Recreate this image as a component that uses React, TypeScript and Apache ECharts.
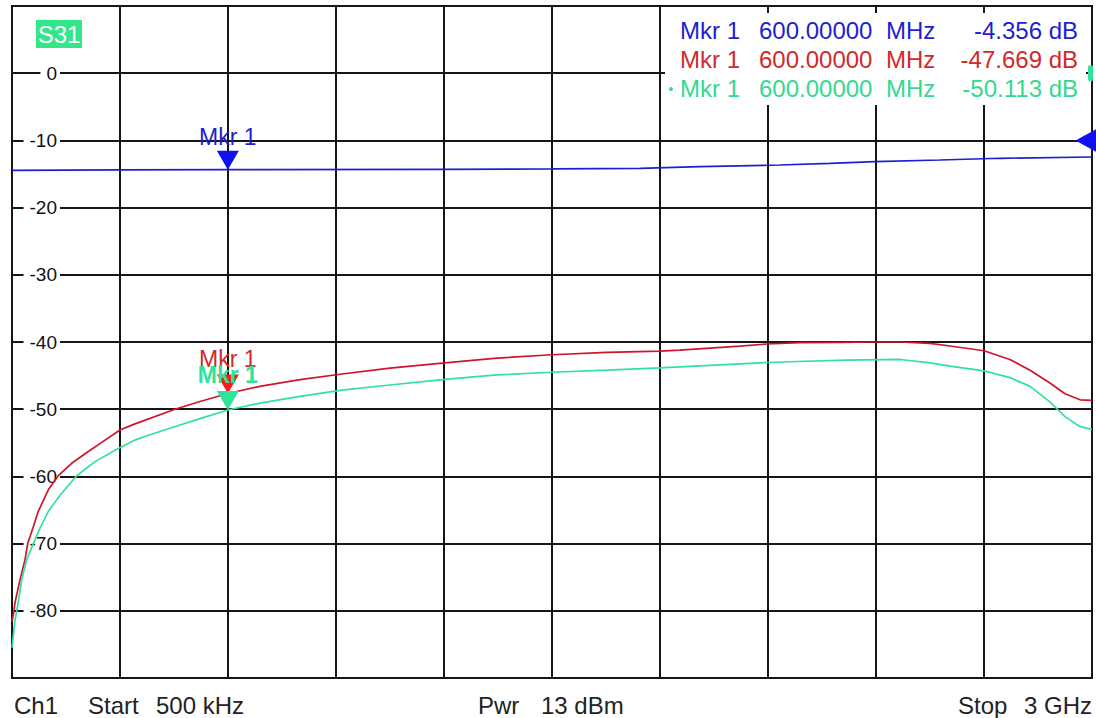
import React, { useEffect, useRef } from "react";
import * as echarts from "echarts";

const FONT = "'Liberation Sans', Arial, Helvetica, sans-serif";

// Sweep range in MHz (Start 500 kHz, Stop 3 GHz)
const startMHz = 0.5;
const stopMHz = 3000;
const markerMHz = 600;

// Display scale (dB)
const yMin = -90;
const yMax = 10;
const yStep = 10;
// The transmission trace has its reference position one division lower
const blueRefShift = 10;

// Transmission trace (dB, own reference)
const blueFreq = [0.5, 300, 600, 1200, 1500, 1745, 1911, 2133, 2272, 2397, 2578, 2744, 3000];
const blueDb = [-4.45, -4.4, -4.356, -4.3, -4.25, -4.15, -3.91, -3.66, -3.41, -3.17, -2.92, -2.66, -2.47];

// Coupling trace (red)
const redFreq = [
  0.5, 6, 8.8, 22.7, 36.6, 44.1, 59.7, 73.5, 101.3, 129, 166.3, 212.4, 258.8, 300.4, 336.5,
  453, 522.6, 600, 689, 800.4, 911.5, 1050, 1203, 1347.5, 1500, 1653, 1800, 1855, 1939, 2022,
  2097, 2189, 2300, 2400, 2467, 2550, 2606, 2700, 2772, 2828, 2883, 2925, 2967, 3000,
];
const redDb = [
  -81.6, -80, -78.8, -75.4, -72.4, -70, -67.5, -65.2, -62, -59.9, -58.05, -56.3, -54.6, -53.1, -52.3,
  -50, -48.85, -47.669, -46.6, -45.6, -44.8, -43.9, -43.1, -42.4, -41.9, -41.55, -41.35, -41.2, -40.9, -40.6,
  -40.3, -40.1, -40.05, -40.0, -40.0, -40.2, -40.6, -41.3, -42.6, -44.2, -46.1, -47.7, -48.6, -48.7,
];

// Isolation trace (green, active)
const greenFreq = [
  0.5, 8.8, 13.6, 27.4, 41.3, 59.7, 78.3, 101.3, 133.8, 180.2, 231, 286.6, 342, 383.8, 467,
  522.6, 600, 689, 800.4, 911.5, 1050, 1203, 1347.5, 1500, 1653, 1800, 1967, 2078, 2181, 2319,
  2467, 2550, 2606, 2700, 2772, 2828, 2883, 2925, 2967, 3000,
];
const greenDb = [
  -85.5, -81.4, -80.1, -75.4, -72.4, -70, -67.7, -65.2, -62.8, -59.9, -57.8, -56.1, -54.6, -53.8, -52.35,
  -51.4, -50.113, -49.1, -48.1, -47.2, -46.4, -45.55, -44.9, -44.5, -44.2, -43.85, -43.4, -43.1, -42.9, -42.7,
  -42.6, -43.1, -43.6, -44.3, -45.3, -46.6, -48.9, -51.1, -52.6, -53.0,
];

// Marker 1 readouts per trace: blue, red, green
const markerValues = [-4.356, -47.669, -50.113];
const markerName = "Mkr 1";

const BLUE = "#1e1ed0";
const BLUE_MARK = "#1010f0";
const RED = "#d0142c";
const RED_TEXT = "#d02a2a";
const RED_MARK = "#ff1a1a";
const GREEN = "#30e29a";
const GREEN_TEXT = "#35d890";
const GRID = "#161616";

function zip(xs: number[], ys: number[]) {
  return xs.map((x, i) => [x, ys[i]]);
}

function markerPoint(value: number, color: string, textColor: string, bold: boolean, distance: number) {
  return {
    coord: [markerMHz, value],
    symbol: "path://M0,0L20,0L10,18Z",
    symbolSize: [22, 19],
    symbolOffset: [0, -9.5],
    itemStyle: { color },
    label: {
      show: true,
      position: "top",
      distance,
      formatter: markerName,
      color: textColor,
      fontSize: 23,
      fontFamily: FONT,
      fontWeight: bold ? "bold" : "normal",
    },
  };
}

export default function App() {
  const ref = useRef<HTMLDivElement>(null);

  useEffect(() => {
    if (!ref.current) return;
    const chart = echarts.init(ref.current, undefined, { renderer: "svg" });

    const readoutColors = [BLUE, RED_TEXT, GREEN_TEXT];
    const rowY = [30, 59, 88];
    const readout: any[] = [];
    markerValues.forEach((v, i) => {
      const common = { fontSize: 24, fontFamily: FONT, fill: readoutColors[i], verticalAlign: "middle" };
      readout.push(
        { type: "text", z: 20, x: 680, y: rowY[i], style: { ...common, text: markerName, align: "left" } },
        { type: "text", z: 20, x: 759, y: rowY[i], style: { ...common, text: markerMHz.toFixed(5), align: "left" } },
        { type: "text", z: 20, x: 886, y: rowY[i], style: { ...common, text: "MHz", align: "left" } },
        { type: "text", z: 20, x: 1078, y: rowY[i], style: { ...common, text: `${v.toFixed(3)} dB`, align: "right" } },
      );
    });
    readout.push({
      type: "circle",
      z: 20,
      shape: { cx: 671, cy: rowY[2] + 1, r: 2 },
      style: { fill: GREEN_TEXT },
    });

    const footer = { fontSize: 24, fontFamily: FONT, fill: "#222", verticalAlign: "middle", align: "left" };

    const traceLine = (data: number[][], color: string, xi: number, yi: number, markPoint: any) => ({
      type: "line",
      xAxisIndex: xi,
      yAxisIndex: yi,
      data,
      showSymbol: false,
      lineStyle: { color, width: 1.7 },
      markPoint,
    });

    const option: any = {
      animation: false,
      backgroundColor: "#fff",
      grid: {
        left: 12,
        right: 4,
        top: 6,
        bottom: 40,
        show: true,
        borderColor: GRID,
        borderWidth: 2,
        backgroundColor: "#fff",
      },
      xAxis: [
        {
          type: "value",
          min: 0,
          max: 10,
          interval: 1,
          axisLine: { show: false },
          axisTick: { show: false },
          axisLabel: { show: false },
          splitLine: { show: true, lineStyle: { color: GRID, width: 2 } },
        },
        { type: "value", min: startMHz, max: stopMHz, show: false },
      ],
      yAxis: [
        {
          type: "value",
          min: yMin,
          max: yMax,
          interval: yStep,
          axisLine: { show: false },
          axisTick: { show: false },
          splitLine: { show: true, lineStyle: { color: GRID, width: 2 } },
          axisLabel: {
            inside: true,
            margin: 48,
            align: "right",
            color: "#111",
            fontSize: 19,
            fontFamily: FONT,
            backgroundColor: "#fff",
            padding: [1, 3, 1, 6],
            showMinLabel: false,
            showMaxLabel: false,
          },
        },
        { type: "value", min: yMin + blueRefShift, max: yMax + blueRefShift, show: false },
      ],
      series: [
        traceLine(zip(blueFreq, blueDb), BLUE, 1, 1, {
          data: [
            markerPoint(markerValues[0], BLUE_MARK, BLUE, false, 2),
            {
              coord: [stopMHz, 0],
              symbol: "path://M0,10L20,0L20,20Z",
              symbolSize: [21, 23],
              symbolOffset: [-6, 0],
              itemStyle: { color: BLUE_MARK },
              label: { show: false },
            },
          ],
        }),
        traceLine(zip(redFreq, redDb), RED, 1, 0, {
          data: [markerPoint(markerValues[1], RED_MARK, RED_TEXT, false, 4)],
        }),
        traceLine(zip(greenFreq, greenDb), GREEN, 1, 0, {
          data: [
            markerPoint(markerValues[2], GREEN, GREEN, true, 4),
            {
              coord: [stopMHz, 0],
              symbol: "roundRect",
              symbolSize: [5, 16],
              symbolOffset: [-1.5, 0],
              itemStyle: { color: GREEN },
              label: { show: false },
            },
          ],
        }),
      ],
      graphic: [
        { type: "rect", z: 10, shape: { x: 36, y: 20, width: 46, height: 28 }, style: { fill: "#33e68a" } },
        {
          type: "text",
          z: 11,
          x: 59,
          y: 34,
          style: { text: "S31", fill: "#fff", fontSize: 24, fontFamily: FONT, align: "center", verticalAlign: "middle" },
        },
        { type: "rect", z: 10, shape: { x: 665, y: 13, width: 421, height: 92 }, style: { fill: "#fff" } },
        ...readout,
        { type: "text", z: 10, x: 14, y: 705, style: { ...footer, text: "Ch1" } },
        { type: "text", z: 10, x: 88, y: 705, style: { ...footer, text: "Start" } },
        { type: "text", z: 10, x: 156, y: 705, style: { ...footer, text: "500 kHz" } },
        { type: "text", z: 10, x: 478, y: 705, style: { ...footer, text: "Pwr" } },
        { type: "text", z: 10, x: 541, y: 705, style: { ...footer, text: "13 dBm" } },
        { type: "text", z: 10, x: 958, y: 705, style: { ...footer, text: "Stop" } },
        { type: "text", z: 10, x: 1024, y: 705, style: { ...footer, text: "3 GHz" } },
      ],
    };

    chart.setOption(option);
    return () => chart.dispose();
  }, []);

  return (
    <div
      ref={ref}
      style={{ position: "fixed", left: 0, top: 0, width: 1096, height: 718, background: "#fff" }}
    />
  );
}
